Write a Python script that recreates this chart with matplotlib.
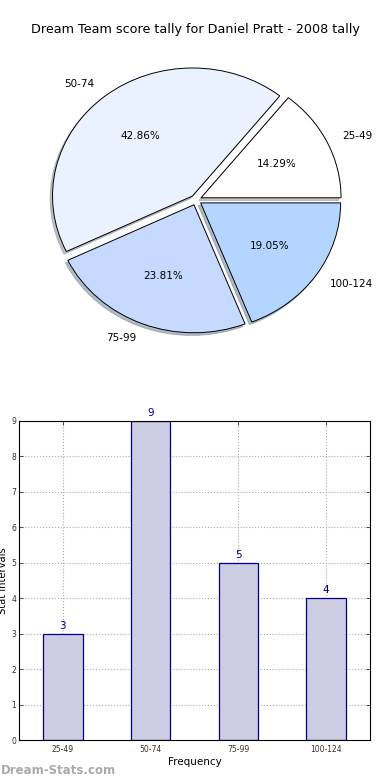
import matplotlib
matplotlib.use("Agg")
import matplotlib.pyplot as plt

title = "Dream Team score tally for Daniel Pratt - 2008 tally"
categories = ["25-49", "50-74", "75-99", "100-124"]
counts = [3, 9, 5, 4]
pie_colors = ["#ffffff", "#ebf2ff", "#c6d9ff", "#b3d5ff"]

fig = plt.figure(figsize=(3.9, 7.8), dpi=100)
fig.text(0.5, 1 - 30 / 780, title, ha="center", va="center", fontsize=9.2)

# pie (stretched, like the old renderer)
ax1 = fig.add_axes([21 / 390, 420 / 780, 350 / 390, 320 / 780])
ax1.pie(
    counts,
    labels=categories,
    colors=pie_colors,
    explode=[0.04] * len(counts),
    autopct="%.2f%%",
    pctdistance=0.6,
    labeldistance=1.12,
    startangle=0,
    shadow={"ox": -0.012, "oy": -0.015, "shade": 0.45},
    wedgeprops={"edgecolor": "black", "linewidth": 0.7},
    textprops={"fontsize": 7.5},
)
ax1.set_aspect("auto")
ax1.set_xlim(-1.25, 1.25)
ax1.set_ylim(-1.25, 1.25)
ax1.axis("off")

# bar chart
ax2 = fig.add_axes([19 / 390, 40 / 780, 351 / 390, 319 / 780])
x = list(range(len(categories)))
ax2.bar(x, counts, width=0.45, color="#ccccE3", edgecolor="#000080", linewidth=0.9, zorder=2)
for xi, c in zip(x, counts):
    ax2.text(xi, c + 0.08, str(c), ha="center", va="bottom", color="#000080", fontsize=7.5)
ax2.set_xlim(-0.5, 3.5)
ax2.set_ylim(0, 9)
ax2.set_xticks(x)
ax2.set_xticklabels(categories)
ax2.set_yticks(range(0, 10))
ax2.tick_params(direction="in", labelsize=5.5, top=True, right=True, length=3, width=0.6, colors="#333333")
ax2.tick_params(axis="y", pad=2)
ax2.grid(True, linestyle=":", color="#aaaaaa", linewidth=0.8, zorder=0)
ax2.set_xlabel("Frequency", fontsize=7.5, labelpad=2)
ax2.set_ylabel("Stat Intervals", fontsize=7.2)
ax2.yaxis.set_label_coords(-0.03, 0.5)
for s in ax2.spines.values():
    s.set_linewidth(0.8)

fig.text(0.002, 1 - 770 / 780, "Dream-Stats.com", ha="left", va="center",
         fontsize=8.5, fontweight="bold", color="#aaaaaa")

fig.savefig("out.png", dpi=100)
